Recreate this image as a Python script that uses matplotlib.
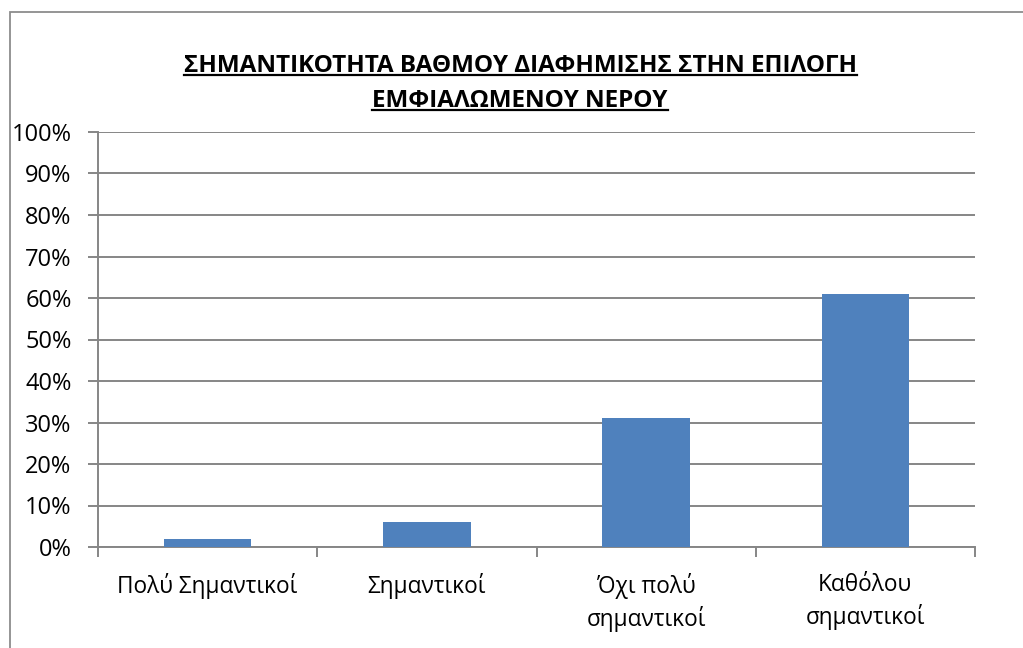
import matplotlib
matplotlib.use('Agg')
import matplotlib.pyplot as plt
from matplotlib.patches import Rectangle
from matplotlib.lines import Line2D
from matplotlib.ticker import FixedLocator, PercentFormatter

# Data
categories = ['Πολύ Σημαντικοί', 'Σημαντικοί', 'Όχι πολύ\nσημαντικοί', 'Καθόλου\nσημαντικοί']
values = [2, 6, 31, 61]
y_ticks = list(range(0, 101, 10))
title_lines = ['ΣΗΜΑΝΤΙΚΟΤΗΤΑ ΒΑΘΜΟΥ ΔΙΑΦΗΜΙΣΗΣ ΣΤΗΝ ΕΠΙΛΟΓΗ', 'ΕΜΦΙΑΛΩΜΕΝΟΥ ΝΕΡΟΥ']

plt.rcParams['font.family'] = ['Open Sans', 'DejaVu Sans']

W, H = 1023, 648
fig = plt.figure(figsize=(W / 100, H / 100), dpi=100)
fig.patch.set_facecolor('white')

# chart-area border (only top/left visible in the crop)
fig.patches.append(Rectangle((10 / W, -0.1), 1.2, 1.1 - 12 / H, transform=fig.transFigure,
                             fill=False, edgecolor='#8c8c8c', linewidth=1.3))

ax = fig.add_axes([98 / W, (H - 547) / H, (975 - 98) / W, (547 - 132) / H])
grid_color = '#868686'

x = list(range(len(categories)))
ax.bar(x, values, width=0.4, color='#4F81BD', zorder=3)

ax.set_xlim(-0.5, len(categories) - 0.5)
ax.set_ylim(0, 100)
ax.set_yticks(y_ticks)
ax.yaxis.set_major_formatter(PercentFormatter(decimals=0))
ax.yaxis.grid(True, color=grid_color, linewidth=1.4)
ax.set_axisbelow(True)

ax.set_xticks(x)
ax.set_xticklabels(categories, fontsize=16.3, linespacing=1.35)
ax.xaxis.set_minor_locator(FixedLocator([i + 0.5 for i in range(-1, len(categories))]))
ax.tick_params(axis='x', which='major', length=0, pad=19)
ax.tick_params(axis='x', which='minor', length=7, color=grid_color, width=1.4)
ax.tick_params(axis='y', length=7, color=grid_color, width=1.4, pad=12, labelsize=17)

for s in ['top', 'right']:
    ax.spines[s].set_visible(False)
for s in ['left', 'bottom']:
    ax.spines[s].set_color(grid_color)
    ax.spines[s].set_linewidth(1.4)

# title, two lines, bold + underlined
title_y = [(H - 66) / H, (H - 101) / H]
texts = []
for line, ty in zip(title_lines, title_y):
    texts.append(fig.text(520 / W, ty, line, ha='center', va='center',
                          fontsize=17.5, fontweight='bold'))

fig.canvas.draw()
renderer = fig.canvas.get_renderer()
for t in texts:
    bb = t.get_window_extent(renderer)
    uy = (bb.y0 + 3) / H
    fig.add_artist(Line2D([bb.x0 / W, bb.x1 / W], [uy, uy], transform=fig.transFigure,
                          color='black', linewidth=1.6))

fig.savefig('out.png', dpi=100)
